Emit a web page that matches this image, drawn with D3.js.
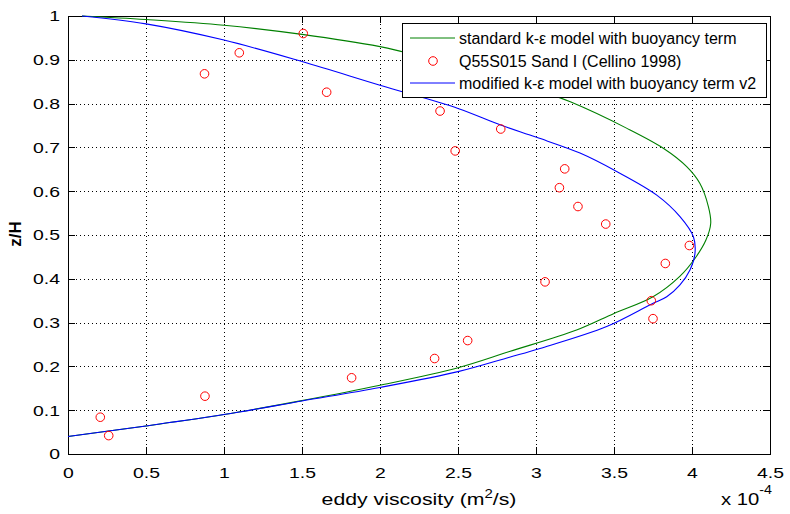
<!DOCTYPE html>
<html>
<head>
<meta charset="utf-8">
<script src="https://cdn.jsdelivr.net/npm/d3@7/dist/d3.min.js"></script>
<style>
  html, body { margin: 0; padding: 0; background: #fff; }
  svg text { font-family: Arial, "Liberation Sans", Helvetica, sans-serif; fill: #000; }
</style>
</head>
<body>
<svg id="chart" width="790" height="514"></svg>
<script>
// Eddy viscosity (x 1e-4 m^2/s) against relative depth z/H

// standard k-epsilon model with buoyancy term: [viscosity, z/H]
const standardModel = [
  [0, 0.04], [0.5, 0.064], [1.0, 0.09], [1.5, 0.122], [2.0, 0.157], [2.5, 0.197],
  [2.83, 0.234], [3.26, 0.283], [3.5, 0.321], [3.75, 0.359], [3.92, 0.405],
  [4.02, 0.447], [4.09, 0.489], [4.12, 0.527], [4.105, 0.565], [4.05, 0.618],
  [3.966, 0.656], [3.816, 0.698], [3.58, 0.744], [3.22, 0.804], [2.9, 0.845],
  [2.6, 0.88], [2.15, 0.918], [2.0, 0.930], [1.5, 0.958], [1.0, 0.979],
  [0.5, 0.992], [0.09, 1.0]
];

// modified k-epsilon model with buoyancy term v2: [viscosity, z/H]
const modifiedModel = [
  [0, 0.04], [0.5, 0.064], [1.0, 0.09], [1.5, 0.121], [2.0, 0.152], [2.5, 0.188],
  [2.83, 0.221], [3.026, 0.241], [3.453, 0.291], [3.739, 0.342], [3.838, 0.359],
  [3.923, 0.386], [3.987, 0.420], [4.019, 0.458], [4.009, 0.496], [3.923, 0.542],
  [3.774, 0.591], [3.517, 0.645], [3.282, 0.687], [3.004, 0.723], [2.774, 0.751],
  [2.5, 0.789], [2.0, 0.842], [1.5, 0.896], [1.0, 0.945], [0.5, 0.982], [0.09, 1.0]
];

// measurements, Q55S015 Sand I (Cellino 1998): [viscosity, z/H]
const measured = [
  [1.508, 0.960], [1.098, 0.916], [0.875, 0.868], [1.658, 0.826], [2.385, 0.783],
  [2.774, 0.742], [2.482, 0.692], [3.184, 0.651], [3.15, 0.608], [3.269, 0.565],
  [3.447, 0.525], [3.983, 0.476], [3.829, 0.435], [3.058, 0.393], [3.739, 0.350],
  [3.75, 0.309], [2.562, 0.259], [2.35, 0.218], [1.818, 0.174], [0.878, 0.132],
  [0.207, 0.084], [0.261, 0.042]
];

const xTicks = [0, 0.5, 1, 1.5, 2, 2.5, 3, 3.5, 4, 4.5];
const yTicks = [0, 0.1, 0.2, 0.3, 0.4, 0.5, 0.6, 0.7, 0.8, 0.9, 1];

const legendLabels = [
  "standard k-\u03b5 model with buoyancy term",
  "Q55S015 Sand I (Cellino 1998)",
  "modified k-\u03b5 model with buoyancy term v2"
];

const GREEN = "#008000", BLUE = "#0000ff", RED = "#ff0000";

const svg = d3.select("#chart");
const plotL = 68, plotR = 770, plotT = 16, plotB = 454;
const W = plotR - plotL, H = plotB - plotT;

const x = d3.scaleLinear().domain([0, 4.5]).range([plotL, plotR]);
const y = d3.scaleLinear().domain([0, 1]).range([plotB, plotT]);

const fmt = d => String(d);
const SX = 1.25; // horizontal stretch of the axis lettering

// dotted grid
const grid = svg.append("g").attr("stroke", "#000").attr("stroke-width", 1)
  .attr("stroke-dasharray", "1,3").attr("shape-rendering", "crispEdges");
grid.selectAll("line.gx").data(xTicks.slice(1, -1)).join("line")
  .attr("x1", d => Math.round(x(d)) + 0.5).attr("x2", d => Math.round(x(d)) + 0.5)
  .attr("y1", plotT).attr("y2", plotB);
grid.selectAll("line.gy").data(yTicks.slice(1, -1)).join("line")
  .attr("y1", d => Math.round(y(d)) + 0.5).attr("y2", d => Math.round(y(d)) + 0.5)
  .attr("x1", plotL).attr("x2", plotR);

// axes with inward ticks on all four sides
const tl = 7;
const axB = svg.append("g").attr("transform", `translate(0,${plotB})`)
  .call(d3.axisBottom(x).tickValues(xTicks).tickFormat(fmt).tickSizeInner(-tl).tickSizeOuter(0).tickPadding(13));
const axT = svg.append("g").attr("transform", `translate(0,${plotT})`)
  .call(d3.axisTop(x).tickValues(xTicks).tickFormat("").tickSizeInner(-tl).tickSizeOuter(0));
const axL = svg.append("g").attr("transform", `translate(${plotL},0)`)
  .call(d3.axisLeft(y).tickValues(yTicks).tickFormat(fmt).tickSizeInner(-tl).tickSizeOuter(0));
const axR = svg.append("g").attr("transform", `translate(${plotR},0)`)
  .call(d3.axisRight(y).tickValues(yTicks).tickFormat("").tickSizeInner(-tl).tickSizeOuter(0));
[axB, axT, axL, axR].forEach(g => {
  g.select(".domain").remove();
  g.selectAll("line").attr("stroke", "#000").attr("shape-rendering", "crispEdges");
  g.selectAll("text").attr("font-size", 15.5).attr("fill", "#000")
    .style("font-family", "Arial, 'Liberation Sans', sans-serif")
    .attr("transform", `scale(${SX},1)`);
});
axB.selectAll("text").attr("dy", "0.71em");
axL.selectAll("text").attr("x", -8 / SX);

// box
svg.append("rect").attr("x", plotL + 0.5).attr("y", plotT + 0.5).attr("width", W).attr("height", H)
  .attr("fill", "none").attr("stroke", "#000").attr("shape-rendering", "crispEdges");

// model curves
const line = d3.line().x(d => x(d[0])).y(d => y(d[1])).curve(d3.curveCatmullRom.alpha(0.5));
const plot = svg.append("g");
plot.append("path").datum(standardModel).attr("d", line)
  .attr("fill", "none").attr("stroke", GREEN).attr("stroke-width", 1.1);
plot.append("path").datum(modifiedModel).attr("d", line)
  .attr("fill", "none").attr("stroke", BLUE).attr("stroke-width", 1.1);

// measured points
plot.selectAll("circle.m").data(measured).join("circle")
  .attr("cx", d => x(d[0])).attr("cy", d => y(d[1])).attr("r", 4.3)
  .attr("fill", "none").attr("stroke", RED).attr("stroke-width", 1);

// axis labels
svg.append("g").attr("transform", `translate(419,505) scale(${SX},1)`)
  .append("text").attr("text-anchor", "middle").attr("font-size", 17)
  .html('eddy viscosity (m<tspan dy="-7" font-size="12">2</tspan><tspan dy="7">/s)</tspan>');
svg.append("g").attr("transform", "translate(721,505) scale(1.19,1)")
  .append("text").attr("font-size", 17)
  .html('x 10<tspan dy="-11" font-size="12">-4</tspan>');
svg.append("text").attr("transform", "translate(21,234) rotate(-90)")
  .attr("text-anchor", "middle").attr("font-size", 17).attr("font-weight", "bold").text("z/H");

// legend
const lg = svg.append("g");
lg.append("rect").attr("x", 402.5).attr("y", 23.5).attr("width", 364).attr("height", 74)
  .attr("fill", "#fff").attr("stroke", "#000").attr("shape-rendering", "crispEdges");
const rows = [38, 61, 83];
lg.append("line").attr("x1", 410).attr("x2", 455).attr("y1", rows[0]).attr("y2", rows[0]).attr("stroke", GREEN);
lg.append("circle").attr("cx", 433).attr("cy", rows[1]).attr("r", 4.3).attr("fill", "none").attr("stroke", RED);
lg.append("line").attr("x1", 410).attr("x2", 455).attr("y1", rows[2]).attr("y2", rows[2]).attr("stroke", BLUE);
lg.selectAll("text.l").data(legendLabels).join("text")
  .attr("x", 459).attr("y", (d, i) => rows[i] + 5.5).attr("font-size", 16).text(d => d);
</script>
</body>
</html>
